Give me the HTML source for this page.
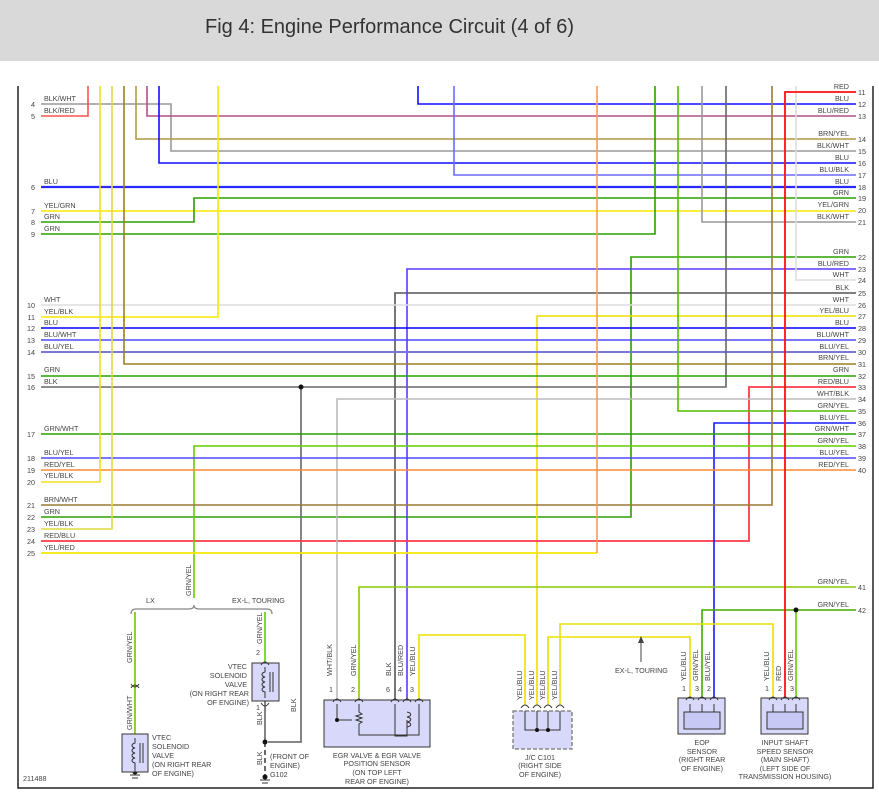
<!DOCTYPE html>
<html><head><meta charset="utf-8"><style>
html,body{margin:0;padding:0;background:#fff;width:879px;height:803px;overflow:hidden}
svg{display:block}
text{font-family:"Liberation Sans",sans-serif;fill:#444}
.l{font-size:7.2px}
.n{font-size:7.2px}
</style></head><body>
<svg width="879" height="803" viewBox="0 0 879 803" xmlns="http://www.w3.org/2000/svg">
<rect x="0" y="0" width="879" height="61" fill="#d9d9d9"/>
<text x="205" y="33" style="font-size:20px;fill:#333">Fig 4: Engine Performance Circuit (4 of 6)</text>
<g fill="none" stroke-width="1.6" stroke-linejoin="miter">
<polyline points="41,104 171,104 171,151 856,151" stroke="#999"/>
<polyline points="41,116 88,116 88,86" stroke="#ff5050"/>
<polyline points="147,86 147,116 856,116" stroke="#b0508a"/>
<polyline points="418,86 418,104 856,104" stroke="#1010ff"/>
<polyline points="136,86 136,139 856,139" stroke="#b09a40"/>
<polyline points="159,86 159,163 856,163" stroke="#1010ff"/>
<polyline points="454,86 454,175 856,175" stroke="#6a6aff"/>
<polyline points="41,187 856,187" stroke="#2a2aff" stroke-width="2.2"/>
<polyline points="41,211 856,211" stroke="#f5e800"/>
<polyline points="41,222 194,222 194,198 856,198" stroke="#2aa000"/>
<polyline points="41,234 655,234 655,86" stroke="#2aa000"/>
<polyline points="702,86 702,222 856,222" stroke="#999"/>
<polyline points="41,517 631,517 631,257 856,257" stroke="#2aa000"/>
<polyline points="407,700 407,269 856,269" stroke="#5a3aff"/>
<polyline points="796,86 796,280 856,280" stroke="#ddd"/>
<polyline points="395,700 395,293 856,293" stroke="#555"/>
<polyline points="41,305 856,305" stroke="#ddd"/>
<polyline points="41,317 218,317 218,86" stroke="#f5e800"/>
<polyline points="537,705 537,316 856,316" stroke="#e8e000"/>
<polyline points="41,328 856,328" stroke="#0000ff"/>
<polyline points="41,340 856,340" stroke="#4a4aff"/>
<polyline points="41,352 856,352" stroke="#7878d8" stroke-width="2"/>
<polyline points="124,86 124,364 856,364" stroke="#9a8020"/>
<polyline points="41,376 856,376" stroke="#2aa000"/>
<polyline points="41,387 726,387 726,86" stroke="#666"/>
<polyline points="301,387 301,742 268,742" stroke="#777" stroke-width="1.8"/>
<polyline points="41,541 749,541 749,387 856,387" stroke="#ff3a4a" stroke-width="1.8"/>
<polyline points="337,700 337,399 856,399" stroke="#bbb"/>
<polyline points="678,86 678,411 856,411" stroke="#55bb00"/>
<polyline points="714,705 714,423 856,423" stroke="#1a1aff"/>
<polyline points="41,434 856,434" stroke="#2aa000"/>
<polyline points="194,598 194,446 856,446" stroke="#66cc00"/>
<polyline points="41,458 856,458" stroke="#4a4aff"/>
<polyline points="41,470 856,470" stroke="#ff8a30"/>
<polyline points="41,482 100,482 100,86" stroke="#f0e020"/>
<polyline points="41,505 772,505 772,86" stroke="#9a7a30"/>
<polyline points="41,529 112,529 112,86" stroke="#e0d840"/>
<polyline points="41,553 597,553" stroke="#f5e800" stroke-width="1.8"/>
<polyline points="597,86 597,553" stroke="#ff9a50"/>
<polyline points="359,700 359,587 856,587" stroke="#88cc00"/>
<polyline points="702,705 702,610 856,610" stroke="#44aa00"/>
<polyline points="796,610 796,705" stroke="#66cc00"/>
<polyline points="856,92 785,92 785,705" stroke="#ff1010" stroke-width="1.8"/>
<polyline points="419,700 419,635 525,635 525,705" stroke="#e8e000"/>
<polyline points="548,705 548,637 690,637 690,705" stroke="#e8e000"/>
<polyline points="560,705 560,624 773,624 773,705" stroke="#e8e000"/>
<polyline points="135,612 135,734" stroke="#66cc00"/>
<polyline points="265,612 265,663" stroke="#66cc00"/>
<polyline points="265,701 265,742" stroke="#666"/>
<polyline points="265,742 265,777" stroke="#444" stroke-dasharray="5,3"/>
<path d="M131,614 Q131,609 136,609 L189,609 Q194,609 194,605 Q194,609 199,609 L267,609 Q272,609 272,614" stroke="#888" stroke-width="1.2"/>
<polyline points="641,662 641,640" stroke="#444" stroke-width="1"/>
</g>
<polygon points="638,643 641,636 644,643" fill="#444"/>
<!-- frame -->
<g stroke="#222" stroke-width="1.5" fill="none">
<polyline points="18,86 18,788 873,788 873,86"/>
</g>
<g fill="#111">
<circle cx="301" cy="387" r="2.5"/><circle cx="796" cy="610" r="2.5"/><circle cx="265" cy="742" r="2.5"/><circle cx="265" cy="777" r="2.5"/><circle cx="135" cy="772" r="2.5"/>
</g>
<!-- left labels -->
<g class="l">
<text x="44" y="101">BLK/WHT</text><text x="44" y="113">BLK/RED</text>
<text x="44" y="184">BLU</text><text x="44" y="208">YEL/GRN</text><text x="44" y="219">GRN</text><text x="44" y="231">GRN</text>
<text x="44" y="302">WHT</text><text x="44" y="314">YEL/BLK</text><text x="44" y="325">BLU</text><text x="44" y="337">BLU/WHT</text><text x="44" y="349">BLU/YEL</text>
<text x="44" y="372">GRN</text><text x="44" y="384">BLK</text><text x="44" y="431">GRN/WHT</text>
<text x="44" y="455">BLU/YEL</text><text x="44" y="467">RED/YEL</text><text x="44" y="478">YEL/BLK</text>
<text x="44" y="502">BRN/WHT</text><text x="44" y="514">GRN</text><text x="44" y="526">YEL/BLK</text><text x="44" y="538">RED/BLU</text><text x="44" y="550">YEL/RED</text>
</g>
<g class="n" text-anchor="end">
<text x="35" y="107">4</text><text x="35" y="119">5</text><text x="35" y="190">6</text><text x="35" y="214">7</text><text x="35" y="225">8</text><text x="35" y="237">9</text>
<text x="35" y="308">10</text><text x="35" y="320">11</text><text x="35" y="331">12</text><text x="35" y="343">13</text><text x="35" y="355">14</text>
<text x="35" y="379">15</text><text x="35" y="390">16</text><text x="35" y="437">17</text><text x="35" y="461">18</text><text x="35" y="473">19</text><text x="35" y="485">20</text>
<text x="35" y="508">21</text><text x="35" y="520">22</text><text x="35" y="532">23</text><text x="35" y="544">24</text><text x="35" y="556">25</text>
</g>
<!-- right labels -->
<g class="l" text-anchor="end">
<text x="849" y="89">RED</text><text x="849" y="101">BLU</text><text x="849" y="113">BLU/RED</text><text x="849" y="136">BRN/YEL</text><text x="849" y="148">BLK/WHT</text><text x="849" y="160">BLU</text><text x="849" y="172">BLU/BLK</text><text x="849" y="184">BLU</text><text x="849" y="195">GRN</text><text x="849" y="207">YEL/GRN</text><text x="849" y="219">BLK/WHT</text>
<text x="849" y="254">GRN</text><text x="849" y="266">BLU/RED</text><text x="849" y="277">WHT</text><text x="849" y="290">BLK</text><text x="849" y="302">WHT</text><text x="849" y="313">YEL/BLU</text><text x="849" y="325">BLU</text><text x="849" y="337">BLU/WHT</text><text x="849" y="349">BLU/YEL</text><text x="849" y="360">BRN/YEL</text><text x="849" y="372">GRN</text><text x="849" y="384">RED/BLU</text><text x="849" y="396">WHT/BLK</text><text x="849" y="408">GRN/YEL</text><text x="849" y="420">BLU/YEL</text><text x="849" y="431">GRN/WHT</text><text x="849" y="443">GRN/YEL</text><text x="849" y="455">BLU/YEL</text><text x="849" y="467">RED/YEL</text>
<text x="849" y="584">GRN/YEL</text><text x="849" y="607">GRN/YEL</text>
</g>
<g class="n">
<text x="858" y="95">11</text><text x="858" y="107">12</text><text x="858" y="119">13</text><text x="858" y="142">14</text><text x="858" y="154">15</text><text x="858" y="166">16</text><text x="858" y="178">17</text><text x="858" y="190">18</text><text x="858" y="201">19</text><text x="858" y="213">20</text><text x="858" y="225">21</text>
<text x="858" y="260">22</text><text x="858" y="272">23</text><text x="858" y="283">24</text><text x="858" y="296">25</text><text x="858" y="308">26</text><text x="858" y="319">27</text><text x="858" y="331">28</text><text x="858" y="343">29</text><text x="858" y="355">30</text><text x="858" y="367">31</text><text x="858" y="379">32</text><text x="858" y="390">33</text><text x="858" y="402">34</text><text x="858" y="414">35</text><text x="858" y="426">36</text><text x="858" y="437">37</text><text x="858" y="449">38</text><text x="858" y="461">39</text><text x="858" y="473">40</text><text x="858" y="590">41</text><text x="858" y="613">42</text>
</g>
<!-- components -->
<g stroke="#333" stroke-width="1">
<rect x="324" y="700" width="106" height="47" fill="#d8d8fa"/>
<rect x="678" y="698" width="47" height="36" fill="#d8d8fa"/>
<rect x="684" y="712" width="36" height="17" fill="#c8c8f4"/>
<rect x="761" y="698" width="47" height="36" fill="#d8d8fa"/>
<rect x="767" y="712" width="36" height="17" fill="#c8c8f4"/>
<rect x="252" y="663" width="27" height="38" fill="#d8d8fa"/>
<rect x="122" y="734" width="26" height="38" fill="#d8d8fa"/>
<rect x="513" y="711" width="59" height="38" fill="#d8d8fa" stroke="#888" stroke-dasharray="4,2" stroke-width="1.5"/>
</g>
<g stroke="#333" stroke-width="1" fill="none">
<polyline points="525,711 525,730 560,730 560,711"/><line x1="537" y1="711" x2="537" y2="730"/><line x1="548" y1="711" x2="548" y2="730"/>
<polyline points="337,704 337,720 352,720"/><path d="M359,704 V712 l3,2 -6,2 6,2 -6,2 6,2 -3,2 V735 H419 V704"/>
<polyline points="395,704 395,736 407,736 407,720"/><path d="M407,712 c5,1 5,4 0,5 c5,1 5,4 0,5 c5,1 5,4 0,5"/>
<line x1="690" y1="704" x2="690" y2="712"/><line x1="702" y1="704" x2="702" y2="712"/><line x1="714" y1="704" x2="714" y2="712"/>
<line x1="773" y1="704" x2="773" y2="712"/><line x1="785" y1="704" x2="785" y2="712"/><line x1="796" y1="704" x2="796" y2="712"/>
<path d="M265,667 V672 c-4,1 -4,4 0,5 c-4,1 -4,4 0,5 c-4,1 -4,4 0,5 c-4,1 -4,4 0,5 V698"/><line x1="270" y1="672" x2="270" y2="692"/><line x1="273" y1="672" x2="273" y2="692"/>
<path d="M135,738 V743 c-4,1 -4,4 0,5 c-4,1 -4,4 0,5 c-4,1 -4,4 0,5 c-4,1 -4,4 0,5 V772"/><line x1="140" y1="743" x2="140" y2="763"/><line x1="143" y1="743" x2="143" y2="763"/>
<path d="M333,702 q4,-6 8,0 M355,702 q4,-6 8,0 M391,702 q4,-6 8,0 M403,702 q4,-6 8,0 M415,702 q4,-6 8,0"/>
<path d="M521,708 q4,-6 8,0 M533,708 q4,-6 8,0 M544,708 q4,-6 8,0 M556,708 q4,-6 8,0"/>
<path d="M686,700 q4,-6 8,0 M698,700 q4,-6 8,0 M710,700 q4,-6 8,0 M769,700 q4,-6 8,0 M781,700 q4,-6 8,0 M792,700 q4,-6 8,0"/>
<path d="M261,665 q4,-6 8,0 M261,703 q4,6 8,0 M131,688 q4,-6 8,0 M131,684 q4,6 8,0"/>
<path d="M130,775 h10 M132,778 h6 M260,780 h10 M262,783 h6"/>
</g>
<g fill="#111"><circle cx="337" cy="720" r="2"/><circle cx="537" cy="730" r="2"/><circle cx="548" cy="730" r="2"/></g>
<!-- component labels -->
<g class="l">
<text x="329" y="692">1</text><text x="351" y="692">2</text><text x="386" y="692">6</text><text x="398" y="692">4</text><text x="410" y="692">3</text>
<text x="682" y="691">1</text><text x="695" y="691">3</text><text x="707" y="691">2</text>
<text x="765" y="691">1</text><text x="778" y="691">2</text><text x="790" y="691">3</text>
<text x="256" y="655">2</text><text x="256" y="710">1</text>
<text x="23" y="781">211488</text>
<text x="146" y="603">LX</text><text x="232" y="603">EX-L, TOURING</text>
<text x="615" y="673">EX-L, TOURING</text>
<text x="270" y="759">(FRONT OF</text><text x="270" y="768">ENGINE)</text><text x="270" y="777">G102</text>
<text x="152" y="740">VTEC</text><text x="152" y="749">SOLENOID</text><text x="152" y="758">VALVE</text><text x="152" y="767">(ON RIGHT REAR</text><text x="152" y="776">OF ENGINE)</text>
</g>
<g class="l" text-anchor="end">
<text x="247" y="669">VTEC</text><text x="247" y="678">SOLENOID</text><text x="247" y="687">VALVE</text><text x="249" y="696">(ON RIGHT REAR</text><text x="249" y="705">OF ENGINE)</text>
</g>
<g class="l" text-anchor="middle">
<text x="377" y="758">EGR VALVE &amp; EGR VALVE</text><text x="377" y="766">POSITION SENSOR</text><text x="377" y="775">(ON TOP LEFT</text><text x="377" y="784">REAR OF ENGINE)</text>
<text x="540" y="760">J/C C101</text><text x="540" y="768">(RIGHT SIDE</text><text x="540" y="777">OF ENGINE)</text>
<text x="702" y="745">EOP</text><text x="702" y="754">SENSOR</text><text x="702" y="762">(RIGHT REAR</text><text x="702" y="771">OF ENGINE)</text>
<text x="785" y="745">INPUT SHAFT</text><text x="785" y="754">SPEED SENSOR</text><text x="785" y="762">(MAIN SHAFT)</text><text x="785" y="771">(LEFT SIDE OF</text><text x="785" y="779">TRANSMISSION HOUSING)</text>
</g>
<!-- rotated wire labels -->
<g class="l">
<text transform="translate(191,596) rotate(-90)">GRN/YEL</text>
<text transform="translate(132,663) rotate(-90)">GRN/YEL</text>
<text transform="translate(132,730) rotate(-90)">GRN/WHT</text>
<text transform="translate(262,644) rotate(-90)">GRN/YEL</text>
<text transform="translate(262,725) rotate(-90)">BLK</text>
<text transform="translate(296,712) rotate(-90)">BLK</text>
<text transform="translate(262,765) rotate(-90)">BLK</text>
<text transform="translate(332,676) rotate(-90)">WHT/BLK</text>
<text transform="translate(356,676) rotate(-90)">GRN/YEL</text>
<text transform="translate(391,676) rotate(-90)">BLK</text>
<text transform="translate(403,676) rotate(-90)">BLU/RED</text>
<text transform="translate(415,676) rotate(-90)">YEL/BLU</text>
<text transform="translate(522,700) rotate(-90)">YEL/BLU</text>
<text transform="translate(534,700) rotate(-90)">YEL/BLU</text>
<text transform="translate(545,700) rotate(-90)">YEL/BLU</text>
<text transform="translate(557,700) rotate(-90)">YEL/BLU</text>
<text transform="translate(686,681) rotate(-90)">YEL/BLU</text>
<text transform="translate(698,681) rotate(-90)">GRN/YEL</text>
<text transform="translate(710,681) rotate(-90)">BLU/YEL</text>
<text transform="translate(769,681) rotate(-90)">YEL/BLU</text>
<text transform="translate(781,681) rotate(-90)">RED</text>
<text transform="translate(793,681) rotate(-90)">GRN/YEL</text>
</g>
</svg>
</body></html>
